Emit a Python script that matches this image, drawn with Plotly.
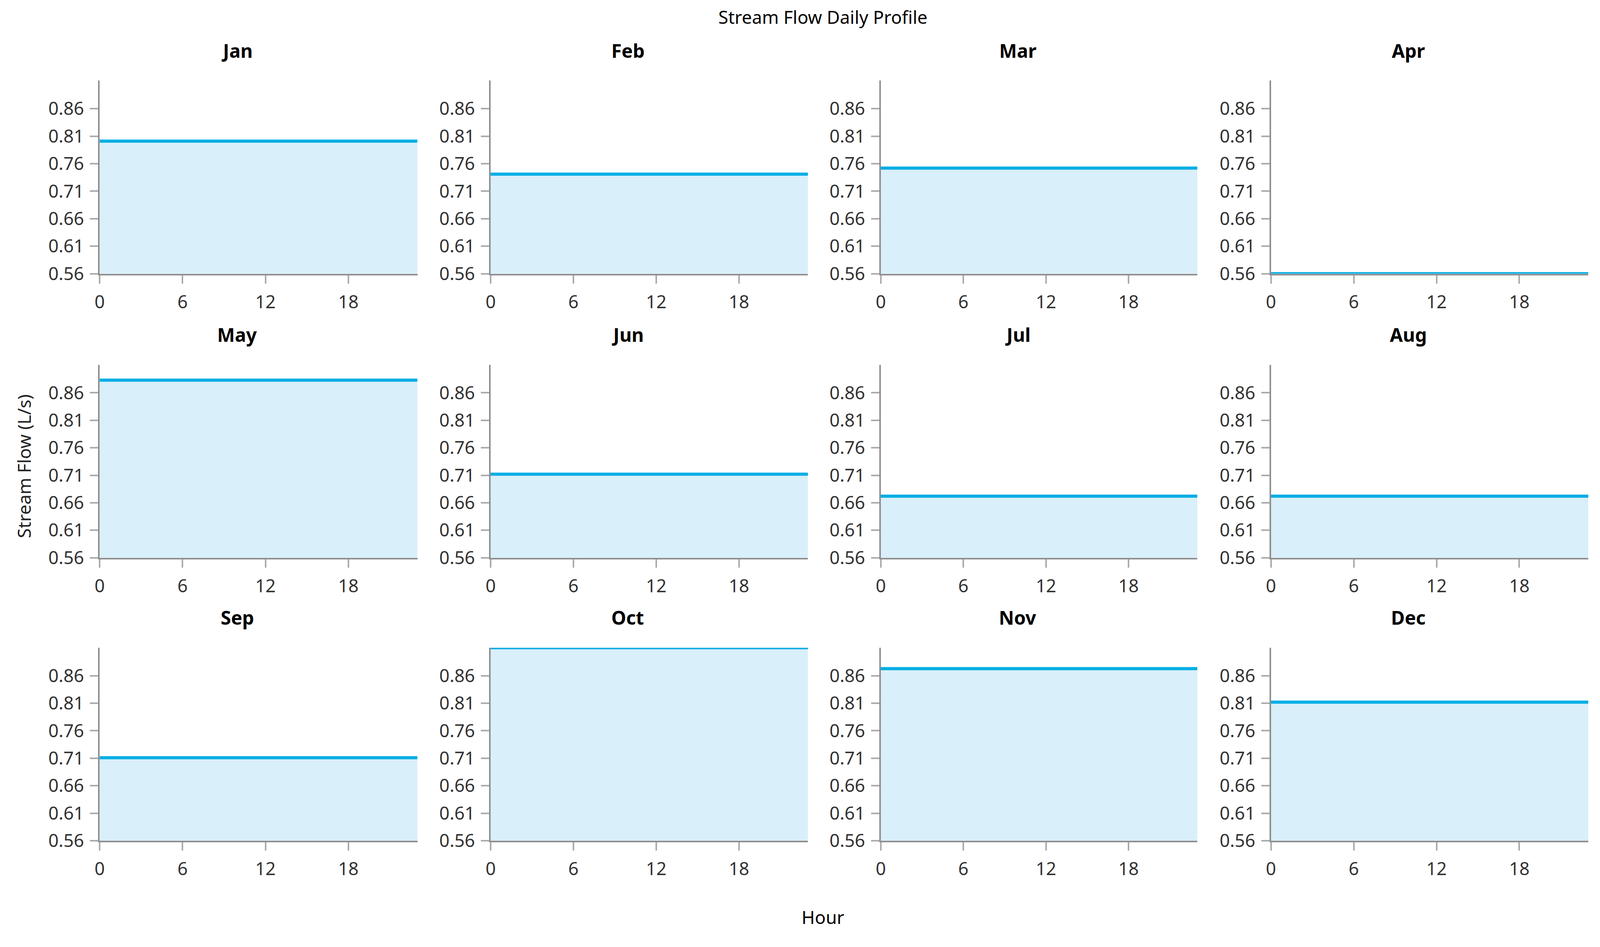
import plotly.graph_objects as go

# ---- data ----
months = ["Jan", "Feb", "Mar", "Apr", "May", "Jun",
          "Jul", "Aug", "Sep", "Oct", "Nov", "Dec"]
hours = [0, 1, 2, 3, 4, 5, 6, 7, 8, 9, 10, 11,
         12, 13, 14, 15, 16, 17, 18, 19, 20, 21, 22, 23]
# hourly stream flow is flat within each month (L/s)
month_flow = [0.801, 0.741, 0.752, 0.560, 0.883, 0.712,
              0.672, 0.672, 0.711, 0.911, 0.873, 0.812]
x_ticks = [0, 6, 12, 18]
y_ticks = [0.56, 0.61, 0.66, 0.71, 0.76, 0.81, 0.86]

title_text = "Stream Flow Daily Profile"
x_title = "Hour"
y_title = "Stream Flow (L/s)"

# ---- layout geometry (pixels) ----
W, H = 4100, 2424
col_px = [(243, 1059), (1247, 2062), (2249, 3062), (3251, 4066)]
row_px = [(209, 709), (945, 1445), (1678, 2178)]  # top, bottom from page top

FONT = "Noto Sans"
LINE = "rgb(0,174,228)"
FILL = "rgb(217,239,250)"
AXIS = "#8f8f8f"
TICK = "#ababab"
TXT = "#333333"

fig = go.Figure()
ymin, ymax = min(month_flow), max(month_flow)

for i, m in enumerate(months):
    r, c = divmod(i, 4)
    n = i + 1
    xa = "x" if n == 1 else f"x{n}"
    ya = "y" if n == 1 else f"y{n}"
    fig.add_trace(go.Scatter(
        x=hours, y=[month_flow[i]] * len(hours),
        mode="lines", fill="tozeroy", fillcolor=FILL,
        line=dict(color=LINE, width=8),
        xaxis=xa, yaxis=ya, showlegend=False, hoverinfo="x+y"))
    x0, x1 = col_px[c]
    t, b = row_px[r]
    xd = [x0 / W, x1 / W]
    yd = [(H - b) / H, (H - t) / H]
    common = dict(showline=True, linecolor=AXIS, linewidth=4,
                  ticks="outside", ticklen=21, tickwidth=4, tickcolor=TICK,
                  showgrid=False, zeroline=False,
                  tickfont=dict(family=FONT, size=46, color=TXT))
    fig.layout[f"xaxis{'' if n == 1 else n}"] = dict(
        domain=xd, anchor=ya, range=[0, 23], tickvals=x_ticks,
        ticktext=[str(v) for v in x_ticks], ticklabelstandoff=8, **common)
    fig.layout[f"yaxis{'' if n == 1 else n}"] = dict(
        domain=yd, anchor=xa, range=[ymin, ymax], tickvals=y_ticks,
        ticktext=[f"{v:.2f}" for v in y_ticks], ticklabelstandoff=6, **common)
    fig.add_annotation(
        text=f"<b>{m}</b>", xref="paper", yref="paper",
        x=((x0 + x1) / 2 - 55) / W, y=(H - (t - 78)) / H,
        xanchor="center", yanchor="middle", showarrow=False,
        font=dict(family=FONT, size=48, color="#000000"))

fig.add_annotation(text=title_text, xref="paper", yref="paper",
                   x=2100 / W, y=(H - 44) / H, xanchor="center", yanchor="middle",
                   showarrow=False, font=dict(family=FONT, size=46, color="#000000"))
fig.add_annotation(text=x_title, xref="paper", yref="paper",
                   x=2100 / W, y=(H - 2375) / H, xanchor="center", yanchor="middle",
                   showarrow=False, font=dict(family=FONT, size=46, color="#000000"))
fig.add_annotation(text=y_title, xref="paper", yref="paper", textangle=-90,
                   x=48 / W, y=(H - 1208) / H, xanchor="center", yanchor="middle",
                   showarrow=False, font=dict(family=FONT, size=46, color="#222222"))

fig.update_layout(width=W, height=H, margin=dict(l=0, r=0, t=0, b=0),
                  plot_bgcolor="white", paper_bgcolor="white")

fig.write_html("out.html", config={"displayModeBar": False},
               post_script="document.body.style.margin='0';"
                           "document.body.style.overflow='hidden';")
